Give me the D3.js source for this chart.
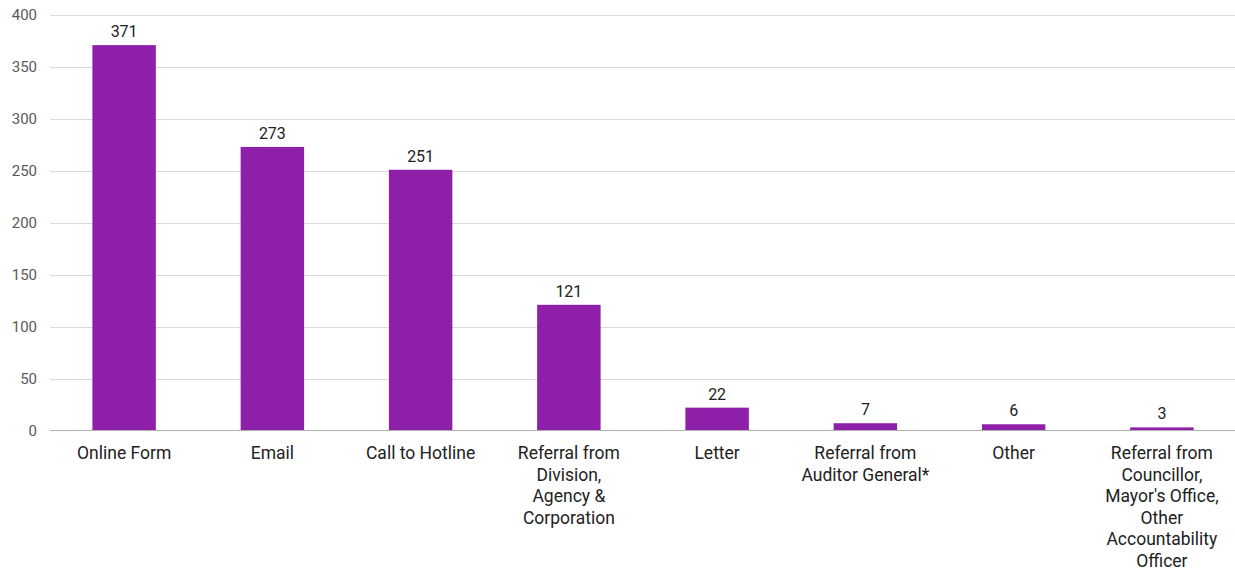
<!DOCTYPE html>
<html>
<head>
<meta charset="utf-8">
<script src="https://cdn.jsdelivr.net/npm/d3@7"></script>
<style>
  html, body { margin: 0; padding: 0; background: #fff; }
  svg { display: block; font-family: Roboto, "Liberation Sans", sans-serif; }
</style>
</head>
<body>
<svg id="chart" width="1235" height="571"></svg>
<script>
// Complaint intake channels and counts
const categories = [
  ["Online Form"],
  ["Email"],
  ["Call to Hotline"],
  ["Referral from", "Division,", "Agency &", "Corporation"],
  ["Letter"],
  ["Referral from", "Auditor General*"],
  ["Other"],
  ["Referral from", "Councillor,", "Mayor's Office,", "Other", "Accountability", "Officer"]
];
const counts = [371, 273, 251, 121, 22, 7, 6, 3];
const yTicks = [0, 50, 100, 150, 200, 250, 300, 350, 400];

const svg = d3.select("#chart");
const plotLeft = 50, plotRight = 1236, plotTop = 15, plotBottom = 430.5;

const x = d3.scaleBand()
  .domain(d3.range(categories.length))
  .range([plotLeft, plotRight])
  .paddingInner(0.572)
  .paddingOuter(0.286);

const y = d3.scaleLinear().domain([0, 400]).range([plotBottom, plotTop]);

// horizontal gridlines
svg.append("g")
  .selectAll("line")
  .data(yTicks.filter(d => d > 0))
  .join("line")
  .attr("x1", plotLeft).attr("x2", 1235)
  .attr("y1", d => Math.round(y(d)) + 0.5).attr("y2", d => Math.round(y(d)) + 0.5)
  .attr("stroke", "#d9d9d9").attr("stroke-width", 1);

// y-axis tick labels
const yAxis = d3.axisLeft(y).tickValues(yTicks).tickSize(0).tickPadding(0);
const yg = svg.append("g").attr("transform", `translate(37,0)`).call(yAxis);
yg.select(".domain").remove();
yg.selectAll("text")
  .attr("fill", "#595959")
  .attr("font-size", "15px")
  .attr("font-family", "Roboto, 'Liberation Sans', sans-serif");

// bars
svg.append("g")
  .selectAll("rect")
  .data(counts)
  .join("rect")
  .attr("x", (d, i) => x(i))
  .attr("width", x.bandwidth())
  .attr("y", d => y(d))
  .attr("height", d => y(0) - y(d))
  .attr("fill", "#8e1fa8");

// value labels
svg.append("g")
  .selectAll("text")
  .data(counts)
  .join("text")
  .attr("x", (d, i) => x(i) + x.bandwidth() / 2)
  .attr("y", d => y(d) - 8)
  .attr("text-anchor", "middle")
  .attr("font-size", "16px")
  .attr("fill", "#222")
  .text(d => d);

// baseline axis
svg.append("line")
  .attr("x1", plotLeft).attr("x2", 1235)
  .attr("y1", plotBottom).attr("y2", plotBottom)
  .attr("stroke", "#b0b0b0").attr("stroke-width", 1.2);

// category labels (multi-line)
const xAxis = d3.axisBottom(x).tickSize(0).tickFormat(() => "");
const xg = svg.append("g").attr("transform", `translate(0,${plotBottom})`).call(xAxis);
xg.select(".domain").remove();
xg.selectAll(".tick text").remove();
xg.selectAll(".tick")
  .append("text")
  .attr("text-anchor", "middle")
  .attr("fill", "#222")
  .attr("font-size", "17.5px")
  .attr("font-family", "Roboto, 'Liberation Sans', sans-serif")
  .each(function(i) {
    const t = d3.select(this);
    categories[i].forEach((line, k) => {
      t.append("tspan").attr("x", 0).attr("y", 28.5 + k * 21.5).text(line);
    });
  });
</script>
</body>
</html>
